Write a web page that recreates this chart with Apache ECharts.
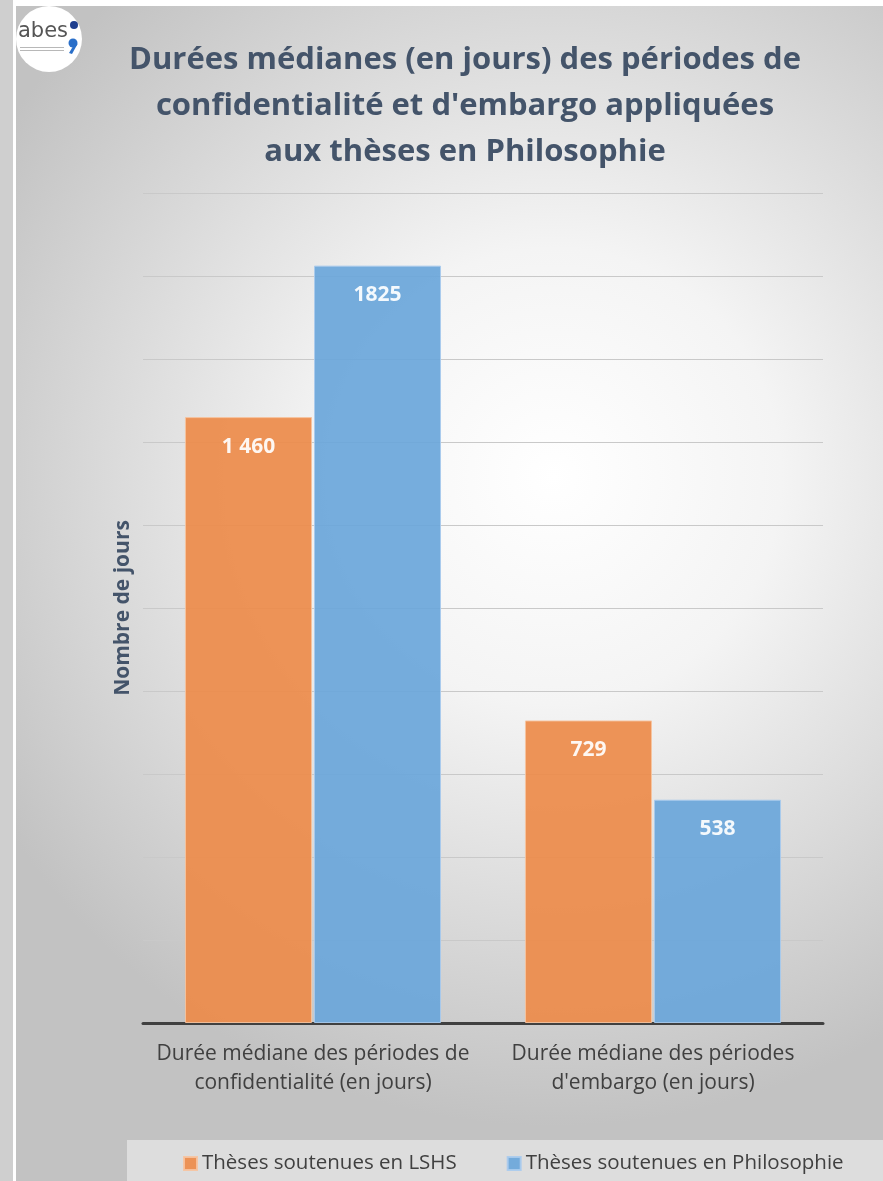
<!DOCTYPE html>
<html>
<head>
<meta charset="utf-8">
<script src="https://cdn.jsdelivr.net/npm/echarts@6/dist/echarts.min.js"></script>
<style>
  body { margin: 0; background: #ffffff; }
  .left-strip { position: absolute; left: 0; top: 0; width: 13px; height: 1181px; background: #cfcfcf; }
  .chart { position: absolute; left: 16px; top: 6px; width: 867px; height: 1175px; }
</style>
</head>
<body>
<div class="left-strip"></div>
<div class="chart" id="chart"></div>
<script>
const categories = [
  'Durée médiane des périodes de\nconfidentialité (en jours)',
  'Durée médiane des périodes\nd\'embargo (en jours)',
];
const seriesNames = ['Thèses soutenues en LSHS', 'Thèses soutenues en Philosophie'];
const lshsValues = [1460, 729];
const philoValues = [1825, 538];
const lshsLabels = ['1 460', '729'];
const philoLabels = ['1825', '538'];
const yMax = 2000;
const yInterval = 200;

const font = '"Open Sans", sans-serif';
const myChart = echarts.init(document.getElementById('chart'));

const makeSeries = (name, values, labels, color, border) => ({
  name: name,
  type: 'bar',
  barWidth: 127,
  barGap: '1.6%',
  itemStyle: {
    color: color,
    opacity: 0.92,
    borderColor: border,
    borderWidth: 1,
  },
  label: {
    show: true,
    position: 'insideTop',
    distance: 19,
    color: '#ffffff',
    fontFamily: font,
    fontWeight: 'bold',
    fontSize: 21,
    formatter: (p) => labels[p.dataIndex],
  },
  data: values,
});

const option = {
  backgroundColor: new echarts.graphic.RadialGradient(0.62, 0.4, 0.75, [
    { offset: 0, color: '#ffffff' },
    { offset: 0.35, color: '#f4f4f4' },
    { offset: 1, color: '#c2c2c2' },
  ]),
  textStyle: { fontFamily: font },
  title: {
    text: 'Durées médianes (en jours) des périodes de\nconfidentialité et d\'embargo appliquées\naux thèses en Philosophie',
    left: 444,
    top: 26,
    textAlign: 'center',
    textStyle: {
      color: '#44546a',
      fontFamily: font,
      fontWeight: 'bold',
      fontSize: 31,
      lineHeight: 46,
    },
  },
  graphic: [
    // bandeau de la légende
    { type: 'rect', left: 111, top: 1134, shape: { width: 756, height: 41 }, style: { fill: '#dddddd' }, z: 0 },
    // logo abes
    { type: 'circle', shape: { cx: 33, cy: 33, r: 33 }, style: { fill: '#ffffff' }, z: 1 },
    { type: 'text', left: 2, top: 15, style: { text: 'abes', fill: '#555555', font: '21px "DejaVu Sans", sans-serif' }, z: 2 },
    { type: 'rect', shape: { x: 4, y: 41, width: 44, height: 1 }, style: { fill: '#b8b8b8' }, z: 2 },
    { type: 'rect', shape: { x: 4, y: 44, width: 44, height: 1 }, style: { fill: '#b8b8b8' }, z: 2 },
    { type: 'circle', shape: { cx: 58, cy: 19, r: 4 }, style: { fill: '#1f3f8f' }, z: 2 },
    { type: 'circle', shape: { cx: 57, cy: 37, r: 4.5 }, style: { fill: '#2a6fc9' }, z: 2 },
    { type: 'polygon', shape: { points: [[59, 37], [61.5, 38], [56, 48], [53, 47]] }, style: { fill: '#2a6fc9' }, z: 2 },
  ],
  legend: {
    left: 162,
    top: 1142,
    itemGap: 50,
    itemWidth: 13,
    itemHeight: 13,
    icon: 'rect',
    textStyle: { color: '#404040', fontSize: 20.5, fontFamily: font },
    data: seriesNames,
  },
  grid: {
    left: 127,
    right: 60,
    top: 187,
    bottom: 158,
  },
  xAxis: {
    type: 'category',
    data: categories,
    axisLine: { show: true, lineStyle: { color: '#404040', width: 3 } },
    axisTick: { show: false },
    axisLabel: {
      color: '#404040',
      fontSize: 21,
      lineHeight: 29,
      margin: 17,
      fontFamily: font,
      interval: 0,
    },
  },
  yAxis: {
    type: 'value',
    min: 0,
    max: yMax,
    interval: yInterval,
    name: 'Nombre de jours',
    nameLocation: 'middle',
    nameGap: 9,
    nameRotate: 90,
    nameTextStyle: { color: '#44546a', fontSize: 21, fontWeight: 'bold', fontFamily: font },
    axisLine: { show: false },
    axisTick: { show: false },
    axisLabel: { show: false },
    splitLine: { show: true, lineStyle: { color: '#c9c9c9', width: 1 } },
  },
  series: [
    makeSeries(seriesNames[0], lshsValues, lshsLabels, '#ed8b4a', '#f6c3a0'),
    makeSeries(seriesNames[1], philoValues, philoLabels, '#6aa6da', '#a9cbee'),
  ],
};

myChart.setOption(option);
</script>
</body>
</html>
